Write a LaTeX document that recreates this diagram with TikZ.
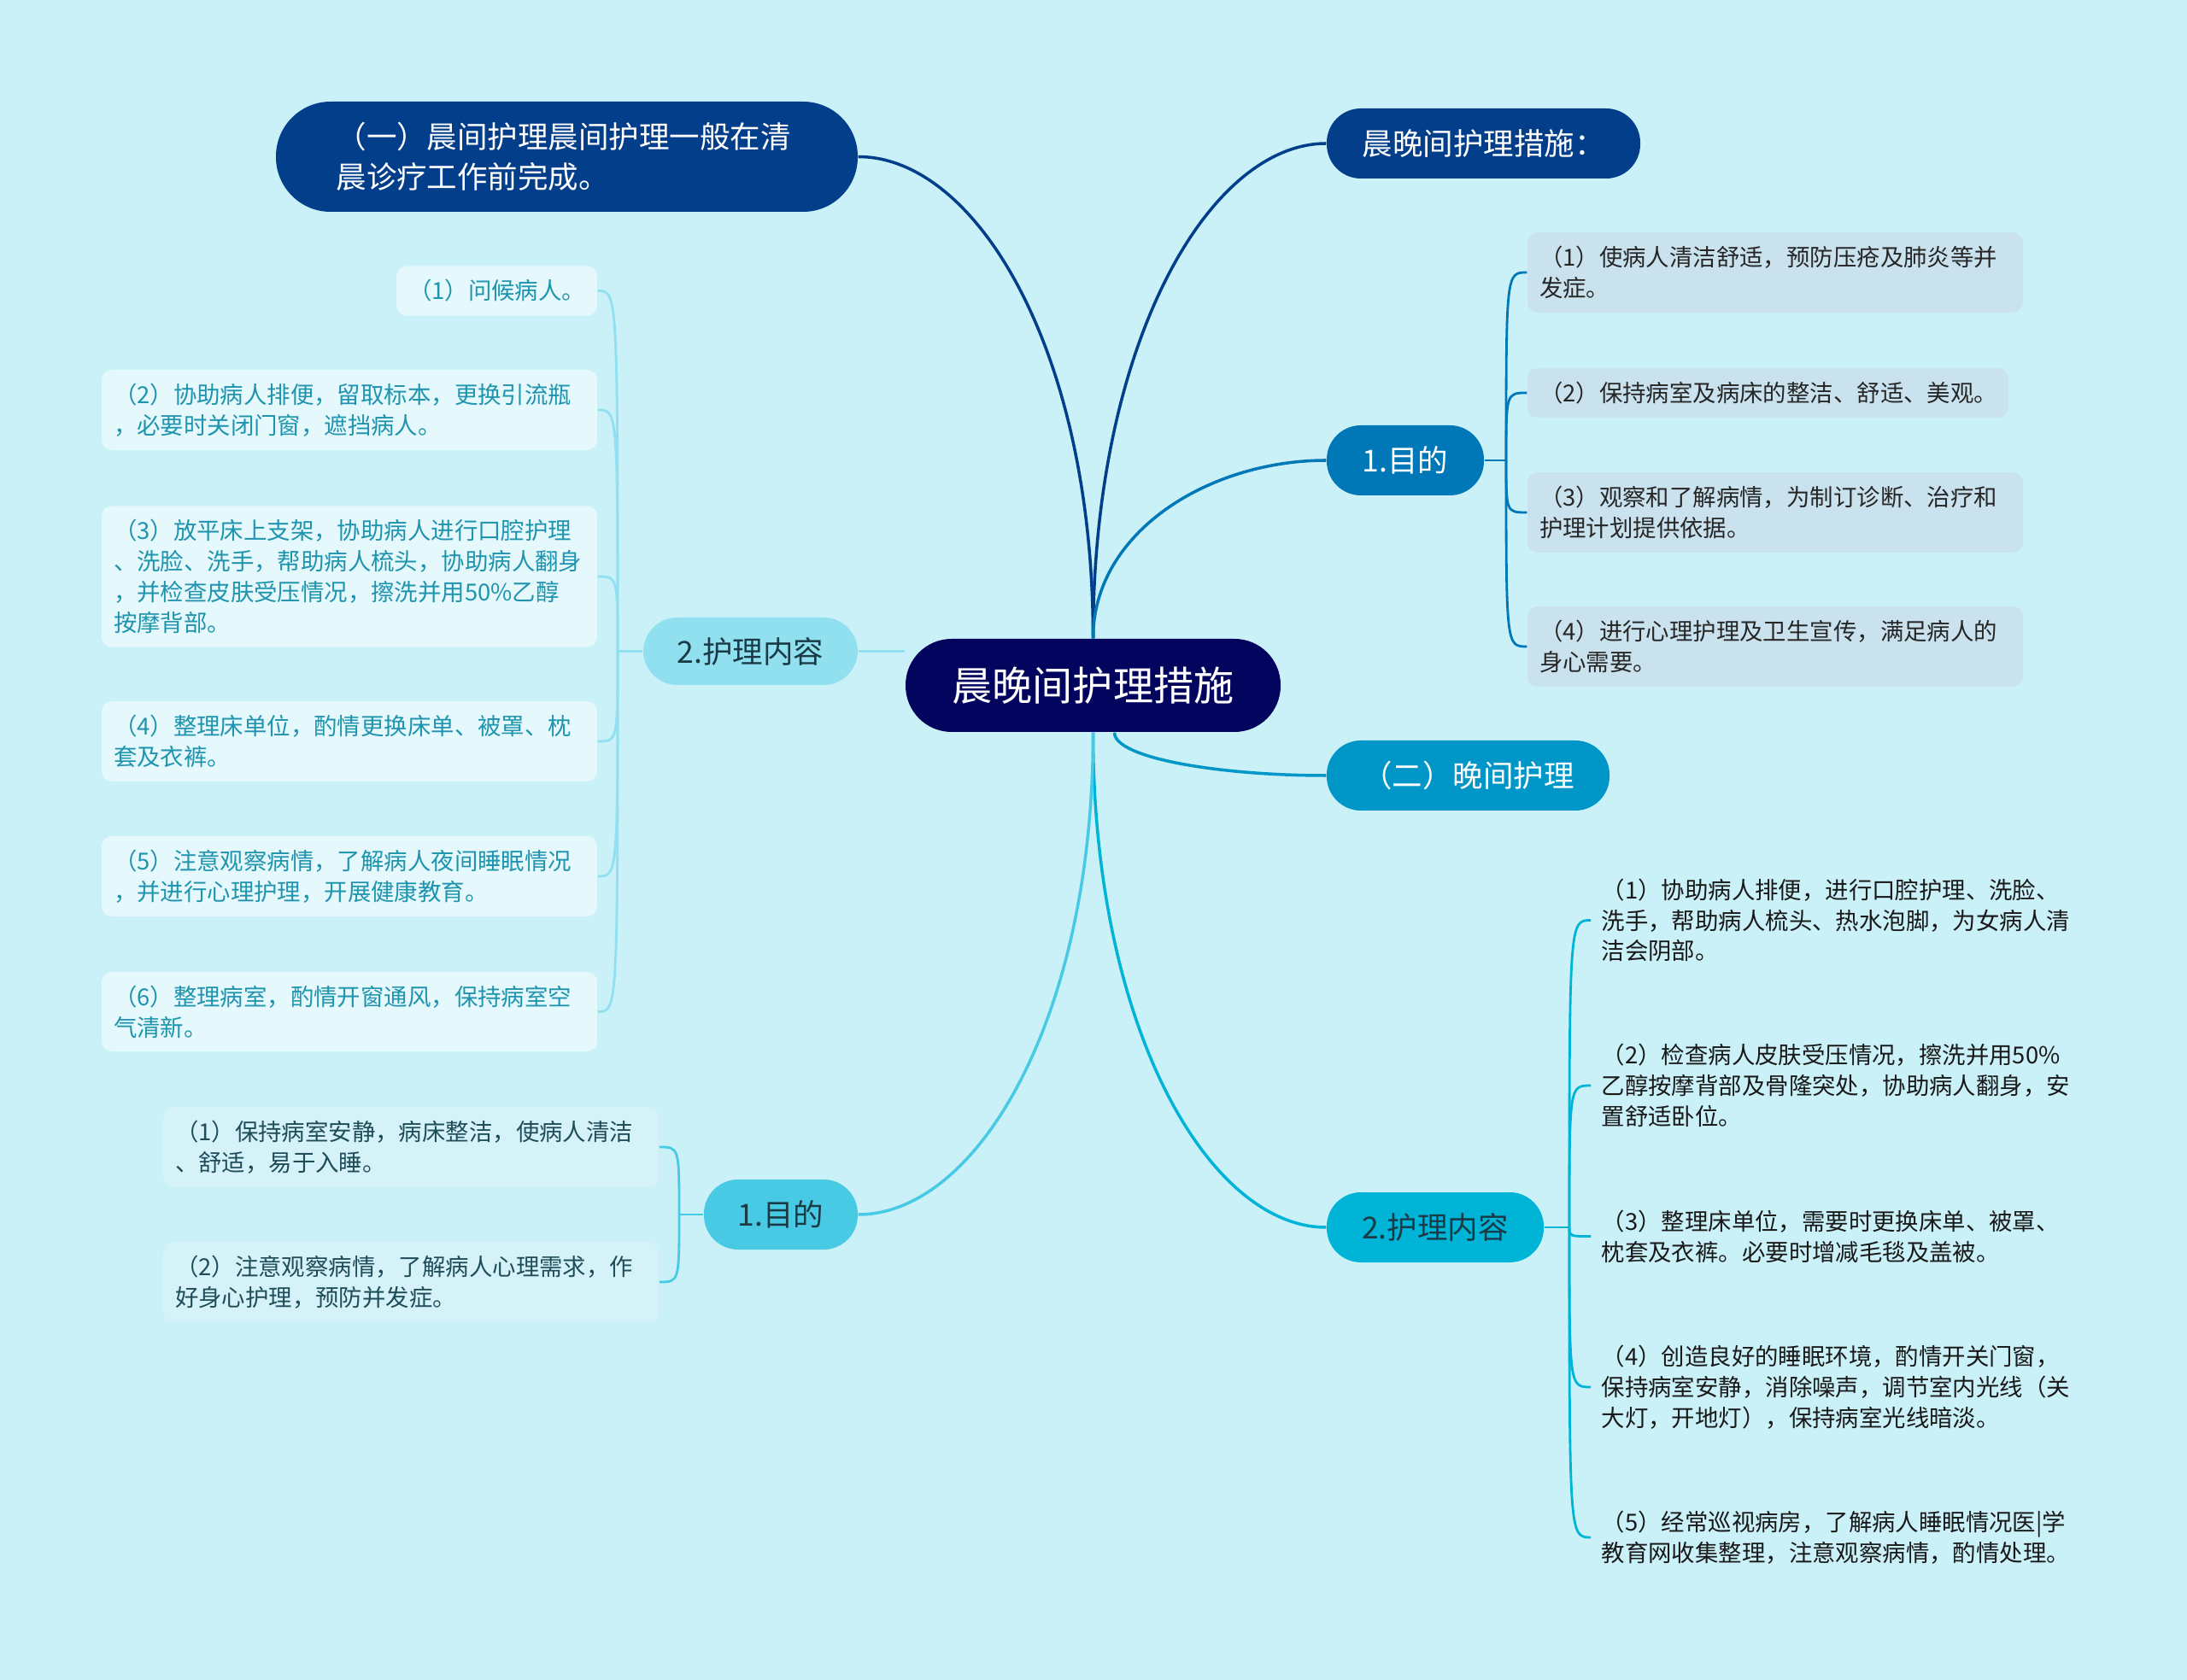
\documentclass[tikz,border=0pt]{standalone}
\usepackage{fontspec}
\setmainfont{Noto Sans CJK SC}
\usetikzlibrary{calc,backgrounds}

\definecolor{bgc}{HTML}{CAF0F8}
\definecolor{c0}{HTML}{03045E}
\definecolor{c1}{HTML}{023E8A}
\definecolor{c2}{HTML}{0077B6}
\definecolor{c3}{HTML}{0096C7}
\definecolor{c4}{HTML}{00B4D8}
\definecolor{c5}{HTML}{48CAE4}
\definecolor{c6}{HTML}{90E0EF}
\definecolor{inkdark}{HTML}{1A3A45}
\definecolor{leafA}{HTML}{C9E2EE}
\definecolor{leafB}{HTML}{E5F8FC}
\definecolor{leafC}{HTML}{D6F2F9}
\definecolor{tealtext}{HTML}{1E94AE}
\definecolor{deeptext}{HTML}{1E4D59}

\tikzset{
  topic/.style={inner sep=0pt, minimum height=0.82cm, rounded corners=0.4cm,
    font=\fontsize{10.1}{13.4}\selectfont, align=center},
  leaf/.style={rounded corners=0.12cm, inner xsep=0.14cm, inner ysep=0.16cm,
    font=\fontsize{7.8}{10.2}\selectfont, align=left, text width=5.52cm},
  note/.style={inner xsep=0.12cm, inner ysep=0pt, anchor=west, text=black!90,
    font=\fontsize{7.8}{10.2}\selectfont, align=left, text width=5.7cm},
  branch/.style={line width=1pt, to path={.. controls ($(\tikztostart)!0.6!(\tikztostart|-\tikztotarget)$)
    and ($(\tikztotarget)!0.5!(\tikztotarget-|\tikztostart)$) .. (\tikztotarget)}},
  twig/.style={line width=0.8pt, to path={.. controls (\tikztostart|-\tikztotarget) .. (\tikztotarget)}}
}

\begin{document}
\begin{tikzpicture}
        \useasboundingbox (0,0) rectangle (25.6,-19.67);

        \node[topic, fill=c0, text=white, minimum width=4.39cm, minimum height=1.09cm, rounded corners=0.54cm, font=\fontsize{13.4}{16}\selectfont] (C) at (12.795,-8.025) {晨晚间护理措施};

        \node[topic, fill=c1, text=white, minimum width=6.81cm, minimum height=1.29cm, rounded corners=0.64cm, text width=5.4cm, align=left] (M) at (6.635,-1.835) {（一）晨间护理晨间护理一般在清\\晨诊疗工作前完成。};
        \node[topic, fill=c1, text=white, minimum width=3.67cm] (T) at (17.365,-1.68) {晨晚间护理措施：};
        \node[topic, fill=c2, text=white, minimum width=1.84cm] (R1) at (16.45,-5.39) {1.目的};
        \node[topic, fill=c3, text=white, minimum width=3.31cm] (T2) at (17.185,-9.08) {（二）晚间护理};
        \node[topic, fill=c4, text=inkdark, minimum width=2.54cm] (R2) at (16.80,-14.37) {2.护理内容};
        \node[topic, fill=c6, text=inkdark, minimum width=2.51cm, minimum height=0.79cm] (L2) at (8.785,-7.625) {2.护理内容};
        \node[topic, fill=c5, text=inkdark, minimum width=1.80cm] (L1) at (9.14,-14.22) {1.目的};

        \node[leaf, fill=leafA, text=black!85] (R1a) at (20.78,-3.19) {（1）使病人清洁舒适，预防压疮及肺炎等并\\发症。};
        \node[leaf, fill=leafA, text=black!85, text width=5.35cm] (R1b) at (20.695,-4.60) {（2）保持病室及病床的整洁、舒适、美观。};
        \node[leaf, fill=leafA, text=black!85] (R1c) at (20.78,-6.00) {（3）观察和了解病情，为制订诊断、治疗和\\护理计划提供依据。};
        \node[leaf, fill=leafA, text=black!85] (R1d) at (20.78,-7.57) {（4）进行心理护理及卫生宣传，满足病人的\\身心需要。};

        \node[leaf, fill=leafB, text=tealtext, text width=2.07cm] (L2a) at (5.815,-3.405) {（1）问候病人。};
        \node[leaf, fill=leafB, text=tealtext] (L2b) at (4.09,-4.80) {（2）协助病人排便，留取标本，更换引流瓶\\，必要时关闭门窗，遮挡病人。};
        \node[leaf, fill=leafB, text=tealtext] (L2c) at (4.09,-6.75) {（3）放平床上支架，协助病人进行口腔护理\\、洗脸、洗手，帮助病人梳头，协助病人翻身\\，并检查皮肤受压情况，擦洗并用50\%乙醇\\按摩背部。};
        \node[leaf, fill=leafB, text=tealtext] (L2d) at (4.09,-8.68) {（4）整理床单位，酌情更换床单、被罩、枕\\套及衣裤。};
        \node[leaf, fill=leafB, text=tealtext] (L2e) at (4.09,-10.26) {（5）注意观察病情，了解病人夜间睡眠情况\\，并进行心理护理，开展健康教育。};
        \node[leaf, fill=leafB, text=tealtext] (L2f) at (4.09,-11.845) {（6）整理病室，酌情开窗通风，保持病室空\\气清新。};

        \node[leaf, fill=leafC, text=deeptext] (L1a) at (4.81,-13.43) {（1）保持病室安静，病床整洁，使病人清洁\\、舒适，易于入睡。};
        \node[leaf, fill=leafC, text=deeptext] (L1b) at (4.81,-15.01) {（2）注意观察病情，了解病人心理需求，作\\好身心护理，预防并发症。};

        \node[note] (R2a) at (18.62,-10.775) {（1）协助病人排便，进行口腔护理、洗脸、\\洗手，帮助病人梳头、热水泡脚，为女病人清\\洁会阴部。};
        \node[note] (R2b) at (18.62,-12.71) {（2）检查病人皮肤受压情况，擦洗并用50\%\\乙醇按摩背部及骨隆突处，协助病人翻身，安\\置舒适卧位。};
        \node[note] (R2c) at (18.62,-14.475) {（3）整理床单位，需要时更换床单、被罩、\\枕套及衣裤。必要时增减毛毯及盖被。};
        \node[note] (R2d) at (18.62,-16.24) {（4）创造良好的睡眠环境，酌情开关门窗，\\保持病室安静，消除噪声，调节室内光线（关\\大灯，开地灯），保持病室光线暗淡。};
        \node[note] (R2e) at (18.62,-18.00) {（5）经常巡视病房，了解病人睡眠情况医|学\\教育网收集整理，注意观察病情，酌情处理。};

        \coordinate (cs2) at ([xshift=2.5mm]C.south);
        \coordinate (jR1) at (17.63,-5.39);
        \coordinate (jR2) at (18.37,-14.37);
        \coordinate (jL2) at (7.23,-7.625);
        \coordinate (jL1) at (7.95,-14.22);

        \begin{pgfonlayer}{background}
        \fill[bgc] (0,0) rectangle (25.6,-19.67);

        \path [branch, c1](C.north) edge (M.east);
        \path [branch, c1](C.north) edge (T.west);
        \path [branch, c2](C.north) edge (R1.west);
        \path [branch, c3](cs2) edge (T2.west);
        \path [branch, c4](C.south) edge (R2.west);
        \path [branch, c5](C.south) edge (L1.east);
        \draw [c6, line width=1pt](L2.east) -- (L2.east -| C.west);

        \draw [c2, line width=0.8pt](R1.east) -- (jR1);
        \path [twig, c2](jR1) edge (R1a.west);
        \path [twig, c2](jR1) edge (R1b.west);
        \path [twig, c2](jR1) edge (R1c.west);
        \path [twig, c2](jR1) edge (R1d.west);

        \draw [c6, line width=0.8pt](L2.west) -- (jL2);
        \path [twig, c6](jL2) edge (L2a.east);
        \path [twig, c6](jL2) edge (L2b.east);
        \path [twig, c6](jL2) edge (L2c.east);
        \path [twig, c6](jL2) edge (L2d.east);
        \path [twig, c6](jL2) edge (L2e.east);
        \path [twig, c6](jL2) edge (L2f.east);

        \draw [c5, line width=0.8pt](L1.west) -- (jL1);
        \path [twig, c5](jL1) edge (L1a.east);
        \path [twig, c5](jL1) edge (L1b.east);

        \draw [c4, line width=0.8pt](R2.east) -- (jR2);
        \path [twig, c4](jR2) edge (R2a.west);
        \path [twig, c4](jR2) edge (R2b.west);
        \path [twig, c4](jR2) edge (R2c.west);
        \path [twig, c4](jR2) edge (R2d.west);
        \path [twig, c4](jR2) edge (R2e.west);
        \end{pgfonlayer}
    \end{tikzpicture}
\end{document}
